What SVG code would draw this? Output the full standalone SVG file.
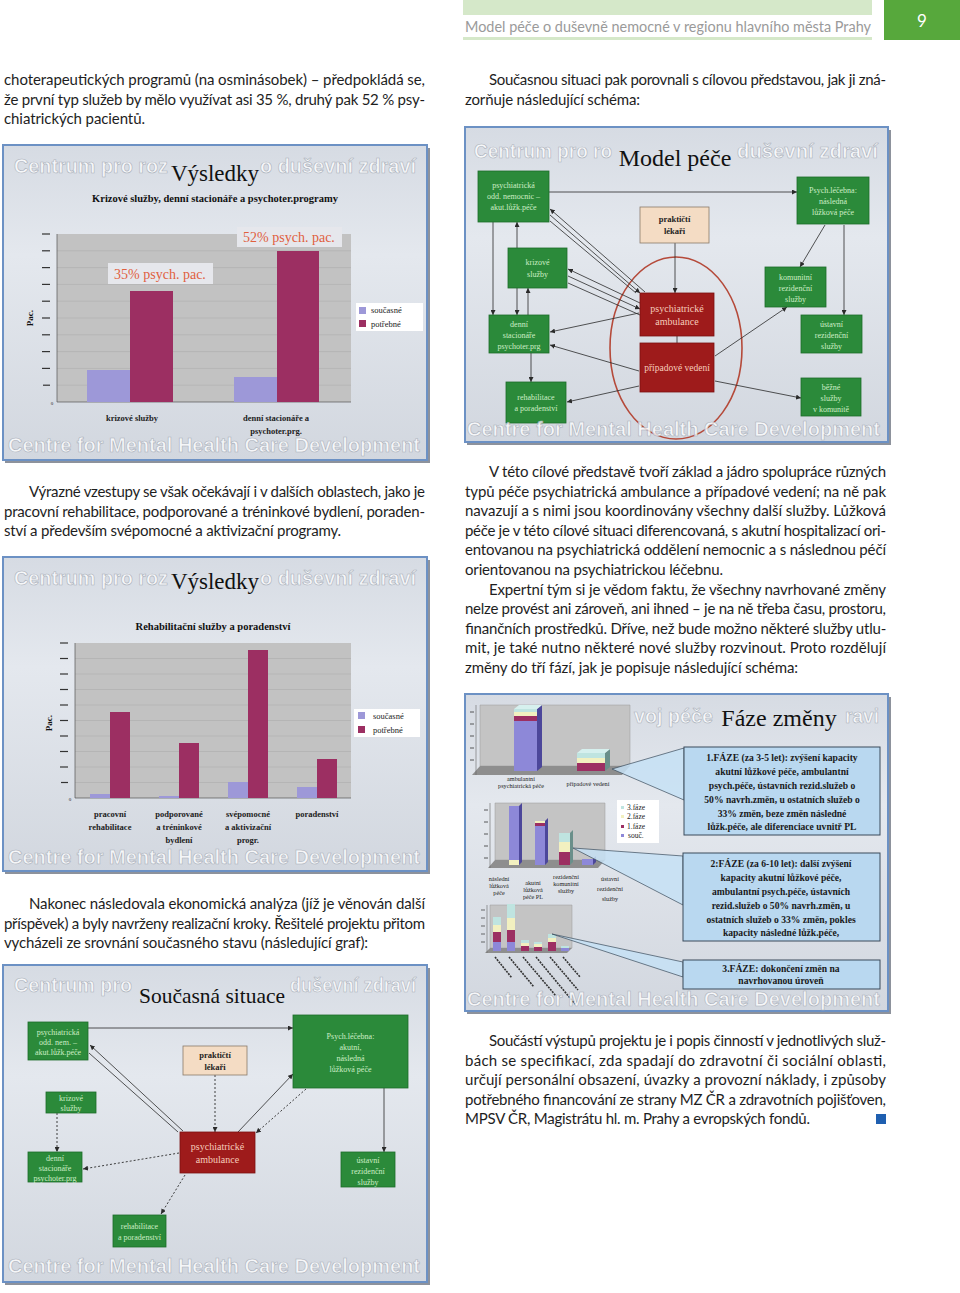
<svg xmlns="http://www.w3.org/2000/svg" width="960" height="1293" viewBox="0 0 960 1293">
<style>
.body{font-family:Lato,"Open Sans","Liberation Sans",sans-serif;font-size:15px;fill:#1e1e1e}
.wm{font-family:"Liberation Sans",Arial,sans-serif;font-weight:bold;font-size:20.2px;fill:#ffffff;fill-opacity:.8;stroke:#aab0ba;stroke-width:.6}
.ttl{font-family:"Liberation Serif","Times New Roman",serif;fill:#111;text-anchor:middle}
.sub{font-family:"Liberation Serif","Times New Roman",serif;font-weight:bold;fill:#111;text-anchor:middle}
.sm{font-family:"Liberation Serif","Times New Roman",serif;font-size:8.5px;fill:#222;text-anchor:middle}
.xs{font-family:"Liberation Serif","Times New Roman",serif;font-size:6.2px;fill:#222;text-anchor:middle}
.gt{font-family:"Liberation Serif","Times New Roman",serif;font-size:8px;fill:#cdeec6;text-anchor:middle}
.rt{font-family:"Liberation Serif","Times New Roman",serif;font-size:10px;fill:#f6cdbb;text-anchor:middle}
.bt{font-family:"Liberation Serif","Times New Roman",serif;font-weight:bold;font-size:8.5px;fill:#222;text-anchor:middle}
.ct{font-family:"Liberation Serif","Times New Roman",serif;font-weight:bold;font-size:9.6px;fill:#1a1a1a;text-anchor:middle}
.frame{fill:url(#slidebg);stroke:#6c91c4;stroke-width:2}
.shadow{fill:#8d929c}
.green{fill:#2b8a3a;stroke:#1d6b2a;stroke-width:.8}
.red{fill:#9e1b1b;stroke:#7a1010;stroke-width:.8}
.beige{fill:#f4dcc4;stroke:#8a7a6a;stroke-width:.8}
.plot{fill:#c2c2c2}
.grid{stroke:#a9a9a9;stroke-width:.5}
.cur{fill:#9d98d8}
.need{fill:#9c2f62}
.ln{stroke:#2a2a2a;stroke-width:.8;fill:none}
.dl{stroke:#2a2a2a;stroke-width:.9;fill:none;stroke-dasharray:2 2}
.tick{stroke:#333;stroke-width:1.2}
.callout{fill:#b9d8f0;stroke:#3a4a5a;stroke-width:1}
.wedge{fill:#c6e0f4;fill-opacity:.85;stroke:#3a4a5a;stroke-width:.7}
</style>
<defs>
<linearGradient id="slidebg" x1="0" y1="0" x2="0" y2="1">
<stop offset="0" stop-color="#d6dbe3"/>
<stop offset=".35" stop-color="#e4e8ee"/>
<stop offset="1" stop-color="#d2d7df"/>
</linearGradient>
<marker id="ar" viewBox="0 0 10 10" refX="10" refY="5" markerWidth="5" markerHeight="5" markerUnits="userSpaceOnUse" orient="auto">
<path d="M0,0 L10,5 L0,10 z" fill="#2a2a2a"/>
</marker>
</defs>
<rect width="960" height="1293" fill="#ffffff"/>

<!-- header -->
<g id="header">
<rect x="463" y="0" width="409" height="15" fill="#d5e8c9"/>
<text x="465" y="32" textLength="406" lengthAdjust="spacingAndGlyphs" style="font-family:Lato,'Liberation Sans',sans-serif;font-size:14.5px;fill:#9a9a9a">Model péče o duševně nemocné v regionu hlavního města Prahy</text>
<rect x="463" y="37" width="409" height="3" fill="#d5e8c9"/>
<rect x="884" y="0" width="76" height="40" fill="#57a83c"/>
<text x="922" y="27" text-anchor="middle" style="font-family:Lato,'Liberation Sans',sans-serif;font-size:17px;fill:#ffffff">9</text>
</g>

<!-- body text -->
<g id="text-left-top" class="body">
<text x="4" y="85" textLength="421" lengthAdjust="spacing">choterapeutických programů (na osminásobek) – předpokládá se,</text>
<text x="4" y="104.6" textLength="421" lengthAdjust="spacing">že první typ služeb by mělo využívat asi 35 %, druhý pak 52 % psy-</text>
<text x="4" y="124.2" textLength="141" lengthAdjust="spacing">chiatrických pacientů.</text>
</g>
<g id="text-right-top" class="body">
<text x="489" y="85" textLength="397" lengthAdjust="spacing">Současnou situaci pak porovnali s cílovou představou, jak ji zná-</text>
<text x="465" y="104.6" textLength="175" lengthAdjust="spacing">zorňuje následující schéma:</text>
</g>
<g id="text-left-mid" class="body">
<text x="29" y="497" textLength="396" lengthAdjust="spacing">Výrazné vzestupy se však očekávají i v dalších oblastech, jako je</text>
<text x="4" y="516.6" textLength="421" lengthAdjust="spacing">pracovní rehabilitace, podporované a tréninkové bydlení, poraden-</text>
<text x="4" y="536.2" textLength="337" lengthAdjust="spacing">ství a především svépomocné a aktivizační programy.</text>
</g>
<g id="text-right-mid" class="body">
<text x="489" y="477" textLength="397" lengthAdjust="spacing">V této cílové představě tvoří základ a jádro spolupráce různých</text>
<text x="465" y="496.6" textLength="421" lengthAdjust="spacing">typů péče psychiatrická ambulance a případové vedení; na ně pak</text>
<text x="465" y="516.2" textLength="421" lengthAdjust="spacing">navazují a s nimi jsou koordinovány všechny další služby. Lůžková</text>
<text x="465" y="535.8" textLength="421" lengthAdjust="spacing">péče je v této cílové situaci diferencovaná, s akutní hospitalizací ori-</text>
<text x="465" y="555.4" textLength="421" lengthAdjust="spacing">entovanou na psychiatrická oddělení nemocnic a s následnou péčí</text>
<text x="465" y="575" textLength="258" lengthAdjust="spacing">orientovanou na psychiatrickou léčebnu.</text>
<text x="489" y="594.6" textLength="397" lengthAdjust="spacing">Expertní tým si je vědom faktu, že všechny navrhované změny</text>
<text x="465" y="614.2" textLength="421" lengthAdjust="spacing">nelze provést ani zároveň, ani ihned – je na ně třeba času, prostoru,</text>
<text x="465" y="633.8" textLength="421" lengthAdjust="spacing">finančních prostředků. Dříve, než bude možno některé služby utlu-</text>
<text x="465" y="653.4" textLength="421" lengthAdjust="spacing">mit, je také nutno některé nové služby rozvinout. Proto rozdělují</text>
<text x="465" y="673" textLength="333" lengthAdjust="spacing">změny do tří fází, jak je popisuje následující schéma:</text>
</g>
<g id="text-left-low" class="body">
<text x="29" y="909" textLength="396" lengthAdjust="spacing">Nakonec následovala ekonomická analýza (jíž je věnován další</text>
<text x="4" y="928.6" textLength="421" lengthAdjust="spacing">příspěvek) a byly navrženy realizační kroky. Řešitelé projektu přitom</text>
<text x="4" y="948.2" textLength="364" lengthAdjust="spacing">vycházeli ze srovnání současného stavu (následující graf):</text>
</g>
<g id="text-right-low" class="body">
<text x="489" y="1046" textLength="397" lengthAdjust="spacing">Součástí výstupů projektu je i popis činností v jednotlivých služ-</text>
<text x="465" y="1065.6" textLength="421" lengthAdjust="spacing">bách se specifikací, zda spadají do zdravotní či sociální oblasti,</text>
<text x="465" y="1085.2" textLength="421" lengthAdjust="spacing">určují personální obsazení, úvazky a provozní náklady, i způsoby</text>
<text x="465" y="1104.8" textLength="421" lengthAdjust="spacing">potřebného financování ze strany MZ ČR a zdravotních pojišťoven,</text>
<text x="465" y="1124.4" textLength="345" lengthAdjust="spacing">MPSV ČR, Magistrátu hl. m. Prahy a evropských fondů.</text>
<rect x="876" y="1114" width="10" height="10" fill="#1f5fb0"/>
</g>

<!-- Slide 1: Výsledky 1 -->
<g id="slide-vysledky1">
<rect class="shadow" x="5" y="148" width="425" height="315"/>
<rect class="frame" x="3" y="145" width="424" height="315"/>
<text class="wm" x="14" y="173" textLength="154" lengthAdjust="spacingAndGlyphs">Centrum pro roz</text>
<text class="wm" x="260" y="173" textLength="156" lengthAdjust="spacingAndGlyphs">o duševní zdraví</text>
<text class="ttl" x="215" y="181" style="font-size:23px">Výsledky</text>
<text class="sub" x="215" y="202" style="font-size:10.5px">Krizové služby,  denní stacionáře a psychoter.programy</text>
<rect class="plot" x="57" y="234" width="294" height="168"/>
<g class="grid">
<line x1="57" y1="250.8" x2="351" y2="250.8"/><line x1="57" y1="267.6" x2="351" y2="267.6"/><line x1="57" y1="284.4" x2="351" y2="284.4"/><line x1="57" y1="301.2" x2="351" y2="301.2"/><line x1="57" y1="318" x2="351" y2="318"/><line x1="57" y1="334.8" x2="351" y2="334.8"/><line x1="57" y1="351.6" x2="351" y2="351.6"/><line x1="57" y1="368.4" x2="351" y2="368.4"/><line x1="57" y1="385.2" x2="351" y2="385.2"/>
</g>
<line x1="57" y1="234" x2="57" y2="402" stroke="#555" stroke-width=".7"/>
<line x1="57" y1="402" x2="351" y2="402" stroke="#555" stroke-width=".7"/>
<g class="tick">
<line x1="42" y1="234" x2="50" y2="234"/><line x1="42" y1="250.8" x2="50" y2="250.8"/><line x1="42" y1="267.6" x2="50" y2="267.6"/><line x1="42" y1="284.4" x2="50" y2="284.4"/><line x1="42" y1="301.2" x2="50" y2="301.2"/><line x1="42" y1="318" x2="50" y2="318"/><line x1="42" y1="334.8" x2="50" y2="334.8"/><line x1="42" y1="351.6" x2="50" y2="351.6"/><line x1="42" y1="368.4" x2="50" y2="368.4"/><line x1="43" y1="385.2" x2="50" y2="385.2"/>
</g>
<text class="sm" x="52" y="405" style="font-size:5px">0</text>
<text class="sub" x="0" y="0" transform="translate(33,318) rotate(-90)" style="font-size:9px">Pac.</text>
<rect class="cur" x="87" y="370" width="43" height="32"/>
<rect class="need" x="130" y="291" width="43" height="111"/>
<rect class="cur" x="234" y="377" width="43" height="25"/>
<rect class="need" x="277" y="251" width="42" height="151"/>
<rect x="108" y="263" width="105" height="21" fill="#e6e7ec"/>
<text x="160" y="279" text-anchor="middle" style="font-family:'Liberation Serif',serif;font-size:14px;fill:#e0603e">35% psych. pac.</text>
<rect x="237" y="227" width="105" height="20" fill="#e6e7ec"/>
<text x="289" y="242" text-anchor="middle" style="font-family:'Liberation Serif',serif;font-size:14px;fill:#e0603e">52% psych. pac.</text>
<rect x="356" y="303" width="67" height="28" fill="#ffffff"/>
<rect class="cur" x="359" y="307" width="7" height="7"/>
<rect class="need" x="359" y="320" width="7" height="7"/>
<text class="sm" x="371" y="313" style="text-anchor:start;font-size:8.5px">současné</text>
<text class="sm" x="371" y="327" style="text-anchor:start;font-size:8.5px">potřebné</text>
<text class="bt" x="132" y="421">krizové služby</text>
<text class="bt" x="276" y="421">denní stacionáře a</text>
<text class="bt" x="276" y="434">psychoter.prg.</text>
<text class="wm" x="8" y="452" textLength="412" lengthAdjust="spacingAndGlyphs">Centre for Mental Health Care Development</text>
</g>

<!-- Slide 2: Model péče -->
<g id="slide-model">
<rect class="shadow" x="467" y="130" width="424" height="315"/>
<rect class="frame" x="465" y="127" width="423" height="315"/>
<text class="wm" x="474" y="158" textLength="138" lengthAdjust="spacingAndGlyphs">Centrum pro ro</text>
<text class="wm" x="737" y="158" textLength="141" lengthAdjust="spacingAndGlyphs">duševní zdraví</text>
<text class="ttl" x="675" y="166" style="font-size:24px">Model péče</text>
<ellipse cx="676" cy="348" rx="66" ry="91" fill="none" stroke="#b54a3a" stroke-width="1.6"/>
</g>
<g id="model-connectors">
<line class="ln" x1="549" y1="192" x2="797" y2="192" marker-end="url(#ar)"/>
<line class="ln" x1="493" y1="222" x2="493" y2="315" marker-end="url(#ar)"/>
<line class="ln" x1="517" y1="248" x2="517" y2="222" marker-end="url(#ar)"/>
<line class="ln" x1="517" y1="288" x2="517" y2="315" marker-end="url(#ar)"/>
<line class="ln" x1="528" y1="315" x2="528" y2="288" marker-end="url(#ar)"/>
<line class="ln" x1="531" y1="353" x2="531" y2="382" marker-end="url(#ar)"/>
<line class="ln" x1="645" y1="292" x2="550" y2="209" marker-end="url(#ar)"/>
<line class="ln" x1="550" y1="215" x2="640" y2="293" marker-end="url(#ar)"/>
<line class="ln" x1="636" y1="293" x2="550" y2="221"/>
<line class="ln" x1="640" y1="303" x2="568" y2="269" marker-end="url(#ar)"/>
<line class="ln" x1="568" y1="276" x2="640" y2="309" marker-end="url(#ar)"/>
<line class="ln" x1="568" y1="283" x2="640" y2="315"/>
<line class="ln" x1="639" y1="313" x2="550" y2="332" marker-end="url(#ar)"/>
<line class="ln" x1="639" y1="371" x2="550" y2="345" marker-end="url(#ar)"/>
<line class="ln" x1="639" y1="386" x2="567" y2="402" marker-end="url(#ar)"/>
<line class="ln" x1="675" y1="243" x2="675" y2="293" marker-end="url(#ar)"/>
<line class="ln" x1="677" y1="336" x2="677" y2="343"/>
<line class="ln" x1="715" y1="356" x2="787" y2="307" marker-end="url(#ar)"/>
<line class="ln" x1="715" y1="381" x2="801" y2="398" marker-end="url(#ar)"/>
<line class="ln" x1="825" y1="225" x2="800" y2="267" marker-end="url(#ar)"/>
<line class="ln" x1="844" y1="225" x2="844" y2="315" marker-end="url(#ar)"/>
</g>
<g id="m-psychodd"><rect class="green" x="478" y="171" width="71" height="51"/><text class="gt" x="513.5" y="188">psychiatrická</text><text class="gt" x="513.5" y="199">odd. nemocnic –</text><text class="gt" x="513.5" y="210">akut.lůžk.péče</text></g>
<g id="m-lecebna"><rect class="green" x="797" y="177" width="72" height="47"/><text class="gt" x="833" y="193">Psych.léčebna:</text><text class="gt" x="833" y="204">následná</text><text class="gt" x="833" y="215">lůžková péče</text></g>
<g id="m-prakticti"><rect class="beige" x="640" y="207" width="69" height="36"/><text class="bt" x="674.5" y="222">praktičtí</text><text class="bt" x="674.5" y="234">lékaři</text></g>
<g id="m-krizove"><rect class="green" x="508" y="248" width="59" height="40"/><text class="gt" x="537.5" y="265">krizové</text><text class="gt" x="537.5" y="277">služby</text></g>
<g id="m-denni"><rect class="green" x="489" y="315" width="60" height="38"/><text class="gt" x="519" y="327">denní</text><text class="gt" x="519" y="338">stacionáře</text><text class="gt" x="519" y="349">psychoter.prg</text></g>
<g id="m-rehab"><rect class="green" x="506" y="382" width="60" height="41"/><text class="gt" x="536" y="400">rehabilitace</text><text class="gt" x="536" y="411">a poradenství</text></g>
<g id="m-komunitni"><rect class="green" x="765" y="267" width="61" height="40"/><text class="gt" x="795.5" y="280">komunitní</text><text class="gt" x="795.5" y="291">rezidenční</text><text class="gt" x="795.5" y="302">služby</text></g>
<g id="m-ustavni"><rect class="green" x="801" y="315" width="61" height="38"/><text class="gt" x="831.5" y="327">ústavní</text><text class="gt" x="831.5" y="338">rezidenční</text><text class="gt" x="831.5" y="349">služby</text></g>
<g id="m-bezne"><rect class="green" x="801" y="378" width="60" height="38"/><text class="gt" x="831" y="390">běžné</text><text class="gt" x="831" y="401">služby</text><text class="gt" x="831" y="412">v komunitě</text></g>
<g id="m-ambulance"><rect class="red" x="640" y="293" width="74" height="43"/><text class="rt" x="677" y="312">psychiatrické</text><text class="rt" x="677" y="325">ambulance</text></g>
<g id="m-pripadove"><rect class="red" x="640" y="343" width="74" height="49"/><text class="rt" x="677" y="371" style="font-size:9.5px">případové vedení</text></g>
<text class="wm" x="467" y="436" textLength="413" lengthAdjust="spacingAndGlyphs">Centre for Mental Health Care Development</text>

<!-- Slide 3: Výsledky 2 -->
<g id="slide-vysledky2">
<rect class="shadow" x="5" y="560" width="425" height="314"/>
<rect class="frame" x="3" y="557" width="424" height="314"/>
<text class="wm" x="14" y="585" textLength="154" lengthAdjust="spacingAndGlyphs">Centrum pro roz</text>
<text class="wm" x="260" y="585" textLength="156" lengthAdjust="spacingAndGlyphs">o duševní zdraví</text>
<text class="ttl" x="215" y="589" style="font-size:23px">Výsledky</text>
<text class="sub" x="213" y="630" style="font-size:10.5px">Rehabilitační služby a poradenství</text>
<rect class="plot" x="75" y="643" width="276" height="155"/>
<g class="grid">
<line x1="75" y1="658.5" x2="351" y2="658.5"/><line x1="75" y1="674" x2="351" y2="674"/><line x1="75" y1="689.5" x2="351" y2="689.5"/><line x1="75" y1="705" x2="351" y2="705"/><line x1="75" y1="720.5" x2="351" y2="720.5"/><line x1="75" y1="736" x2="351" y2="736"/><line x1="75" y1="751.5" x2="351" y2="751.5"/><line x1="75" y1="767" x2="351" y2="767"/><line x1="75" y1="782.5" x2="351" y2="782.5"/>
</g>
<line x1="75" y1="643" x2="75" y2="798" stroke="#555" stroke-width=".7"/>
<line x1="75" y1="798" x2="351" y2="798" stroke="#555" stroke-width=".7"/>
<g class="tick">
<line x1="60" y1="643" x2="68" y2="643"/><line x1="60" y1="658.5" x2="68" y2="658.5"/><line x1="60" y1="674" x2="68" y2="674"/><line x1="60" y1="689.5" x2="68" y2="689.5"/><line x1="60" y1="705" x2="68" y2="705"/><line x1="60" y1="720.5" x2="68" y2="720.5"/><line x1="60" y1="736" x2="68" y2="736"/><line x1="60" y1="751.5" x2="68" y2="751.5"/><line x1="60" y1="767" x2="68" y2="767"/><line x1="61" y1="782.5" x2="68" y2="782.5"/>
</g>
<text class="sm" x="70" y="801" style="font-size:5px">0</text>
<text class="sub" x="0" y="0" transform="translate(52,723) rotate(-90)" style="font-size:9px">Pac.</text>
<rect class="cur" x="90" y="794" width="20" height="4"/>
<rect class="need" x="110" y="712" width="20" height="86"/>
<rect class="cur" x="159" y="796" width="20" height="2"/>
<rect class="need" x="179" y="743" width="20" height="55"/>
<rect class="cur" x="228" y="782" width="20" height="16"/>
<rect class="need" x="248" y="650" width="20" height="148"/>
<rect class="cur" x="297" y="787" width="20" height="11"/>
<rect class="need" x="317" y="759" width="20" height="39"/>
<rect x="354" y="709" width="66" height="28" fill="#ffffff"/>
<rect class="cur" x="358" y="712" width="7" height="7"/>
<rect class="need" x="358" y="726" width="7" height="7"/>
<text class="sm" x="373" y="719" style="text-anchor:start">současné</text>
<text class="sm" x="373" y="733" style="text-anchor:start">potřebné</text>
<text class="bt" x="110" y="817">pracovní</text><text class="bt" x="110" y="830">rehabilitace</text>
<text class="bt" x="179" y="817">podporované</text><text class="bt" x="179" y="830">a tréninkové</text><text class="bt" x="179" y="843">bydlení</text>
<text class="bt" x="248" y="817">svépomocné</text><text class="bt" x="248" y="830">a aktivizační</text><text class="bt" x="248" y="843">progr.</text>
<text class="bt" x="317" y="817">poradenství</text>
<text class="wm" x="8" y="864" textLength="412" lengthAdjust="spacingAndGlyphs">Centre for Mental Health Care Development</text>
</g>

<!-- Slide 4: Fáze změny -->
<g id="slide-faze">
<rect class="shadow" x="467" y="697" width="424" height="317"/>
<rect class="frame" x="465" y="694" width="423" height="317"/>
<text class="wm" x="634" y="723" textLength="79" lengthAdjust="spacingAndGlyphs">voj péče</text>
<text class="wm" x="845" y="723" textLength="34" lengthAdjust="spacingAndGlyphs">ravi</text>
<!-- chart 1 -->
<polygon points="480,705 630,705 630,766 480,766" fill="#c4c4c4" stroke="#999" stroke-width=".5"/>
<polygon points="472,775 622,775 630,766 480,766" fill="#8e8e8e"/>
<line x1="476" y1="705" x2="476" y2="775" stroke="#666" stroke-width=".6"/>
<g class="tick" style="stroke-width:.8"><line x1="470" y1="712" x2="474" y2="712"/><line x1="470" y1="724" x2="474" y2="724"/><line x1="470" y1="736" x2="474" y2="736"/><line x1="470" y1="748" x2="474" y2="748"/><line x1="470" y1="760" x2="474" y2="760"/></g>
<rect x="514" y="721" width="23" height="50" fill="#8d88d8"/>
<rect x="514" y="716" width="23" height="5" fill="#9c2f62"/>
<rect x="514" y="712" width="23" height="4" fill="#f2f0c0"/>
<rect x="514" y="709" width="23" height="3" fill="#bfe4e0"/>
<polygon points="537,709 542,705 542,767 537,771" fill="#4c479a"/>
<polygon points="514,709 519,705 542,705 537,709" fill="#d6f0ee"/>
<rect x="577" y="763" width="28" height="8" fill="#9c2f62"/>
<rect x="577" y="758" width="28" height="5" fill="#f2f0c0"/>
<rect x="577" y="753" width="28" height="5" fill="#bfe4e0"/>
<polygon points="605,753 610,749 610,767 605,771" fill="#6a8f8a"/>
<polygon points="577,753 582,749 610,749 605,753" fill="#d6f0ee"/>
<text class="xs" x="521" y="781">ambulantní</text>
<text class="xs" x="521" y="788">psychiatrická péče</text>
<text class="xs" x="588" y="786">případové vedení</text>
<!-- chart 2 -->
<polygon points="495,803 605,803 605,860 495,860" fill="#c4c4c4" stroke="#999" stroke-width=".5"/>
<polygon points="488,868 598,868 605,860 495,860" fill="#8e8e8e"/>
<line x1="490" y1="803" x2="490" y2="868" stroke="#666" stroke-width=".6"/>
<g class="tick" style="stroke-width:.8"><line x1="484" y1="810" x2="488" y2="810"/><line x1="484" y1="822" x2="488" y2="822"/><line x1="484" y1="834" x2="488" y2="834"/><line x1="484" y1="846" x2="488" y2="846"/><line x1="484" y1="858" x2="488" y2="858"/></g>
<rect x="509" y="806" width="10" height="59" fill="#8d88d8"/>
<rect x="509" y="860" width="10" height="5" fill="#f2f0c0"/>
<polygon points="519,806 522,803 522,862 519,865" fill="#4c479a"/>
<rect x="535" y="826" width="10" height="39" fill="#8d88d8"/>
<rect x="535" y="823" width="10" height="3" fill="#9c2f62"/>
<rect x="535" y="821" width="10" height="2" fill="#f2f0c0"/>
<polygon points="545,821 548,818 548,862 545,865" fill="#4c479a"/>
<rect x="559" y="852" width="11" height="13" fill="#9c2f62"/>
<rect x="559" y="842" width="11" height="10" fill="#f2f0c0"/>
<rect x="559" y="833" width="11" height="9" fill="#bfe4e0"/>
<polygon points="570,833 573,830 573,862 570,865" fill="#6a8f8a"/>
<rect x="582" y="859" width="11" height="6" fill="#8d88d8"/>
<polygon points="593,859 596,856 596,862 593,865" fill="#4c479a"/>
<rect x="617" y="800" width="42" height="43" fill="#ffffff"/>
<rect x="621" y="806" width="3" height="3" fill="#bfe4e0"/><text class="sm" x="627" y="810" style="text-anchor:start;font-size:7.5px">3.fáze</text>
<rect x="621" y="815" width="3" height="3" fill="#f2f0c0"/><text class="sm" x="627" y="819" style="text-anchor:start;font-size:7.5px">2.fáze</text>
<rect x="621" y="825" width="3" height="3" fill="#9c2f62"/><text class="sm" x="627" y="829" style="text-anchor:start;font-size:7.5px">1.fáze</text>
<rect x="621" y="834" width="3" height="3" fill="#8d88d8"/><text class="sm" x="628" y="838" style="text-anchor:start;font-size:7.5px">souč.</text>
<text class="xs" x="499" y="881">následní</text><text class="xs" x="499" y="888">lůžková</text><text class="xs" x="499" y="895">péče</text>
<text class="xs" x="533" y="885">akutní</text><text class="xs" x="533" y="892">lůžková</text><text class="xs" x="533" y="899">péče PL</text>
<text class="xs" x="566" y="879">rezidenční</text><text class="xs" x="566" y="886">komunitní</text><text class="xs" x="566" y="893">služby</text>
<text class="xs" x="610" y="881">ústavní</text><text class="xs" x="610" y="891">rezidenční</text><text class="xs" x="610" y="901">služby</text>
<!-- chart 3 -->
<polygon points="490,905 572,905 572,948 490,948" fill="#c4c4c4" stroke="#999" stroke-width=".5"/>
<polygon points="485,953 567,953 572,948 490,948" fill="#8e8e8e"/>
<line x1="487" y1="905" x2="487" y2="953" stroke="#666" stroke-width=".6"/>
<g class="tick" style="stroke-width:.7"><line x1="481" y1="910" x2="485" y2="910"/><line x1="481" y1="918" x2="485" y2="918"/><line x1="481" y1="926" x2="485" y2="926"/><line x1="481" y1="934" x2="485" y2="934"/><line x1="481" y1="942" x2="485" y2="942"/></g>
<g>
<rect x="493" y="942" width="8" height="9" fill="#8d88d8"/><rect x="493" y="932" width="8" height="10" fill="#9c2f62"/><rect x="493" y="925" width="8" height="7" fill="#f2f0c0"/><rect x="493" y="917" width="8" height="8" fill="#bfe4e0"/>
<rect x="507" y="942" width="8" height="9" fill="#8d88d8"/><rect x="507" y="930" width="8" height="12" fill="#9c2f62"/><rect x="507" y="918" width="8" height="12" fill="#f2f0c0"/><rect x="507" y="904" width="8" height="14" fill="#bfe4e0"/>
<rect x="521" y="946" width="8" height="5" fill="#9c2f62"/><rect x="521" y="943" width="8" height="3" fill="#f2f0c0"/><rect x="521" y="940" width="8" height="3" fill="#bfe4e0"/>
<rect x="534" y="947" width="8" height="4" fill="#9c2f62"/><rect x="534" y="944" width="8" height="3" fill="#f2f0c0"/><rect x="534" y="942" width="8" height="2" fill="#bfe4e0"/>
<rect x="548" y="942" width="8" height="9" fill="#9c2f62"/><rect x="548" y="938" width="8" height="4" fill="#f2f0c0"/><rect x="548" y="934" width="8" height="4" fill="#bfe4e0"/>
<rect x="561" y="948" width="8" height="3" fill="#8d88d8"/><rect x="561" y="946" width="8" height="2" fill="#bfe4e0"/>
</g>
<g stroke="#333" stroke-width="1.6" stroke-dasharray="2 1" fill="none">
<line x1="495" y1="957" x2="512" y2="978"/>
<line x1="509" y1="957" x2="534" y2="987"/>
<line x1="523" y1="957" x2="556" y2="996"/>
<line x1="536" y1="957" x2="575" y2="1004"/>
<line x1="550" y1="957" x2="578" y2="990"/>
<line x1="563" y1="957" x2="580" y2="977"/>
</g>
<!-- callouts -->
<polygon class="wedge" points="612,769 684,748 684,800"/>
<rect class="callout" x="684" y="747" width="196" height="88"/>
<text class="ct" x="782" y="761">1.FÁZE (za 3-5 let): zvýšení kapacity</text>
<text class="ct" x="782" y="775">akutní lůžkové péče, ambulantní</text>
<text class="ct" x="782" y="789">psych.péče, ústavních rezid.služeb o</text>
<text class="ct" x="782" y="803">50% navrh.změn, u ostatních služeb o</text>
<text class="ct" x="782" y="817">33% změn, beze změn následné</text>
<text class="ct" x="782" y="830">lůžk.péče, ale diferenciace uvnitř PL</text>
<polygon class="wedge" points="573,848 683,856 683,905"/>
<rect class="callout" x="683" y="853" width="197" height="88"/>
<text class="ct" x="781" y="867">2:FÁZE (za 6-10 let): další zvýšení</text>
<text class="ct" x="781" y="881">kapacity akutní lůžkové péče,</text>
<text class="ct" x="781" y="895">ambulantní psych.péče, ústavních</text>
<text class="ct" x="781" y="909">rezid.služeb o 50% navrh.změn, u</text>
<text class="ct" x="781" y="923">ostatních služeb o 33% změn, pokles</text>
<text class="ct" x="781" y="936">kapacity následné lůžk.péče,</text>
<polygon class="wedge" points="552,934 683,962 683,977"/>
<rect class="callout" x="683" y="960" width="197" height="29"/>
<text class="ct" x="781" y="972">3.FÁZE: dokončení změn na</text>
<text class="ct" x="781" y="984">navrhovanou úroveň</text>
<text class="ttl" x="779" y="726" style="font-size:24px">Fáze změny</text>
<text class="wm" x="467" y="1006" textLength="413" lengthAdjust="spacingAndGlyphs">Centre for Mental Health Care Development</text>
</g>

<!-- Slide 5: Současná situace -->
<g id="slide-soucasna">
<rect class="shadow" x="5" y="968" width="425" height="317"/>
<rect class="frame" x="3" y="965" width="424" height="317"/>
<text class="wm" x="14" y="992" textLength="118" lengthAdjust="spacingAndGlyphs">Centrum pro</text>
<text class="wm" x="290" y="992" textLength="126" lengthAdjust="spacingAndGlyphs">duševní zdraví</text>
<text class="ttl" x="212" y="1003" textLength="146" lengthAdjust="spacingAndGlyphs" style="font-size:22px">Současná situace</text>
</g>
<g id="s-connectors">
<line class="ln" x1="88" y1="1028" x2="293" y2="1028" marker-end="url(#ar)"/>
<line class="ln" x1="183" y1="1131" x2="90" y2="1045" marker-end="url(#ar)"/>
<line class="ln" x1="89" y1="1053" x2="178" y2="1132"/>
<line class="dl" x1="215" y1="1075" x2="215" y2="1132" marker-end="url(#ar)"/>
<line class="ln" x1="238" y1="1132" x2="293" y2="1074" marker-end="url(#ar)"/>
<line class="dl" x1="306" y1="1089" x2="256" y2="1133" marker-end="url(#ar)"/>
<line class="ln" x1="384" y1="1088" x2="384" y2="1152" marker-end="url(#ar)"/>
<line class="dl" x1="57" y1="1113" x2="57" y2="1152" marker-end="url(#ar)"/>
<line class="dl" x1="179" y1="1153" x2="83" y2="1169" marker-end="url(#ar)"/>
<line class="dl" x1="185" y1="1175" x2="161" y2="1214" marker-end="url(#ar)"/>
</g>
<g id="s-psychodd"><rect class="green" x="28" y="1022" width="60" height="38"/><text class="gt" x="58" y="1035">psychiatrická</text><text class="gt" x="58" y="1045">odd. nem. –</text><text class="gt" x="58" y="1055">akut.lůžk.péče</text></g>
<g id="s-lecebna"><rect class="green" x="293" y="1015" width="115" height="73"/><text class="gt" x="350.5" y="1039">Psych.léčebna:</text><text class="gt" x="350.5" y="1050">akutní,</text><text class="gt" x="350.5" y="1061">následná</text><text class="gt" x="350.5" y="1072">lůžková péče</text></g>
<g id="s-prakticti"><rect class="beige" x="183" y="1046" width="64" height="29"/><text class="bt" x="215" y="1058">praktičtí</text><text class="bt" x="215" y="1070">lékaři</text></g>
<g id="s-krizove"><rect class="green" x="46" y="1092" width="50" height="21"/><text class="gt" x="71" y="1101">krizové</text><text class="gt" x="71" y="1111">služby</text></g>
<g id="s-denni"><rect class="green" x="28" y="1152" width="54" height="30"/><text class="gt" x="55" y="1161">denní</text><text class="gt" x="55" y="1171">stacionáře</text><text class="gt" x="55" y="1181">psychoter.prg</text></g>
<g id="s-ambulance"><rect class="red" x="180" y="1132" width="75" height="41"/><text class="rt" x="217.5" y="1150">psychiatrické</text><text class="rt" x="217.5" y="1163">ambulance</text></g>
<g id="s-ustavni"><rect class="green" x="341" y="1152" width="54" height="35"/><text class="gt" x="368" y="1163">ústavní</text><text class="gt" x="368" y="1174">rezidenční</text><text class="gt" x="368" y="1185">služby</text></g>
<g id="s-rehab"><rect class="green" x="113" y="1215" width="53" height="32"/><text class="gt" x="139.5" y="1229">rehabilitace</text><text class="gt" x="139.5" y="1240">a poradenství</text></g>
<text class="wm" x="8" y="1273" textLength="412" lengthAdjust="spacingAndGlyphs">Centre for Mental Health Care Development</text>
</svg>
